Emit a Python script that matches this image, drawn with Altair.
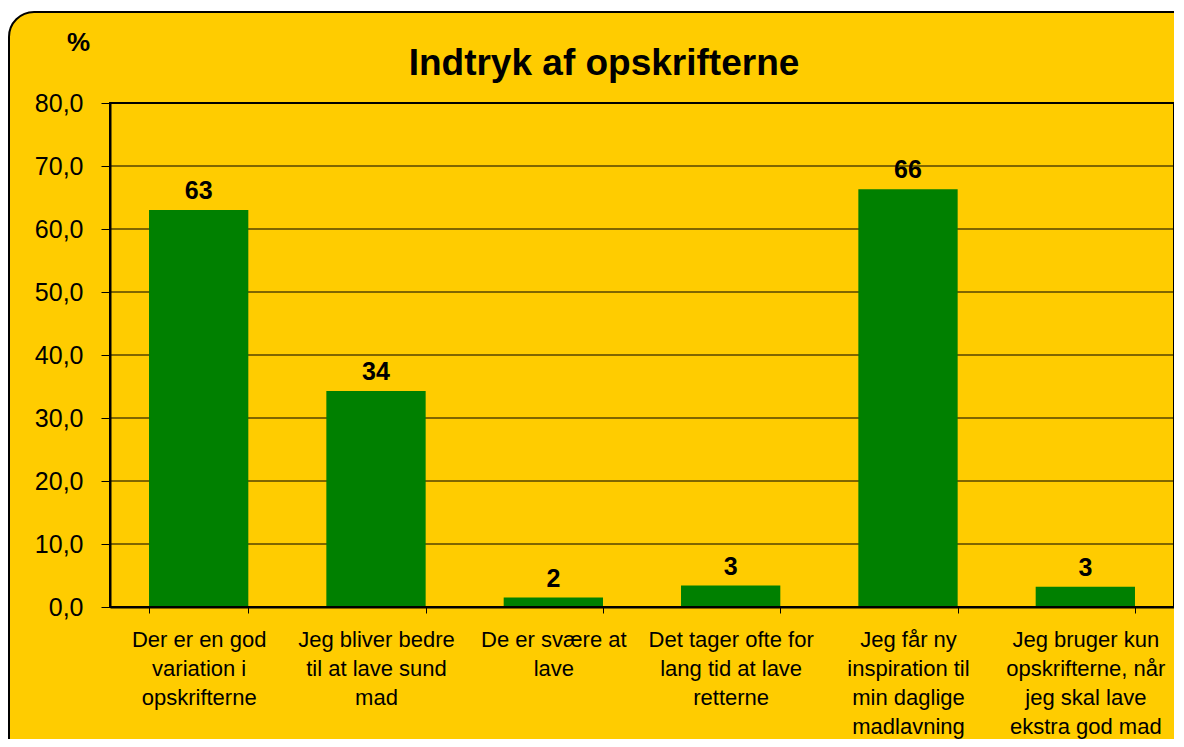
import altair as alt
import pandas as pd

categories = [
    "Der er en god\nvariation i\nopskrifterne",
    "Jeg bliver bedre\ntil at lave sund\nmad",
    "De er svære at\nlave",
    "Det tager ofte for\nlang tid at lave\nretterne",
    "Jeg får ny\ninspiration til\nmin daglige\nmadlavning",
    "Jeg bruger kun\nopskrifterne, når\njeg skal lave\nekstra god mad",
]
values = [63.0, 34.3, 1.5, 3.4, 66.3, 3.2]
y_ticks = [0, 10, 20, 30, 40, 50, 60, 70, 80]

TITLE = "Indtryk af opskrifterne"
Y_TITLE = "%"
FONT = "Liberation Sans"
YELLOW = "#FFCC00"
GREEN = "#008000"

W, H = 1064, 504

df = pd.DataFrame({"cat": categories, "val": values})
grid_df = pd.DataFrame({"val": y_ticks})
one = pd.DataFrame({"a": [0]})
title_df = pd.DataFrame({"t": [TITLE]})

x_axis = alt.Axis(
    title=None,
    labelExpr="split(datum.label, '\\n')",
    labelAngle=0,
    labelFont=FONT,
    labelFontSize=22,
    labelColor="black",
    labelLineHeight=29,
    labelBaseline="alphabetic",
    labelPadding=33,
    labelLimit=400,
    labelOverlap=False,
    labelBound=False,
    tickBand="extent",
    tickSize=6,
    tickColor="black",
    tickWidth=1,
    domainColor="black",
    domainWidth=2,
    zindex=1,
)
x_scale = alt.Scale(paddingInner=0.44, paddingOuter=0.22)

y_scale = alt.Scale(domain=[0, 80], nice=False)
y_axis = alt.Axis(
    title=Y_TITLE,
    titleAngle=0,
    titleX=-32,
    titleY=-61,
    titleAlign="center",
    titleBaseline="middle",
    titleFont=FONT,
    titleFontSize=26,
    titleFontWeight="bold",
    titleColor="black",
    values=y_ticks,
    labelExpr="replace(format(datum.value, '.1f'), '.', ',')",
    labelFont=FONT,
    labelFontSize=25,
    labelColor="black",
    labelPadding=18,
    tickSize=9,
    tickColor="black",
    tickWidth=1,
    domainColor="black",
    domainWidth=2,
    grid=False,
    zindex=1,
)

frame = alt.Chart(one).mark_rect(
    fill=YELLOW, stroke="black", strokeWidth=2, cornerRadius=25
).encode(
    x=alt.value(-101), x2=alt.value(W + 40),
    y=alt.value(-91), y2=alt.value(H + 300),
)

title = alt.Chart(title_df).mark_text(
    font=FONT, fontSize=37, fontWeight="bold", color="black",
    align="center", baseline="alphabetic",
).encode(
    text="t:N", x=alt.value(494), y=alt.value(-28)
)

grid = alt.Chart(grid_df).mark_rule(color="black", strokeWidth=1).encode(
    y=alt.Y("val:Q", scale=y_scale, axis=y_axis)
)

bars = alt.Chart(df).mark_bar(color=GREEN).encode(
    x=alt.X("cat:N", sort=None, scale=x_scale, axis=x_axis),
    y=alt.Y("val:Q", scale=y_scale, axis=y_axis),
)

labels = alt.Chart(df).mark_text(
    font=FONT, fontSize=25, fontWeight="bold", color="black",
    baseline="alphabetic", dy=-11,
).encode(
    x=alt.X("cat:N", sort=None, scale=x_scale, axis=x_axis),
    y=alt.Y("val:Q", scale=y_scale, axis=y_axis),
    text=alt.Text("val:Q", format=".0f"),
)

border = alt.Chart(one).mark_rect(
    fillOpacity=0, stroke="black", strokeWidth=2
).encode(
    x=alt.value(0), x2=alt.value(W), y=alt.value(0), y2=alt.value(H)
)

chart = alt.layer(frame, title, grid, bars, labels, border).properties(
    width=W,
    height=H,
    background="white",
    padding={"left": 102, "top": 95, "right": 0, "bottom": 132},
    autosize=alt.AutoSizeParams(type="none"),
).configure_view(strokeWidth=0)

chart.save("out.html", embed_options={"renderer": "svg", "actions": False})
